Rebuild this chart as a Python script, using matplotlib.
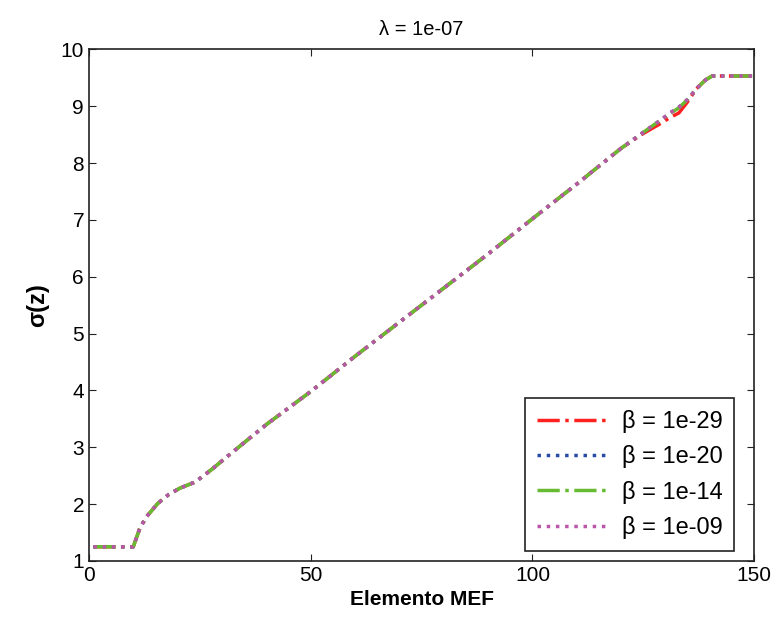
import matplotlib
matplotlib.use("Agg")
import matplotlib.pyplot as plt

plt.rcParams['font.family'] = ['Liberation Sans', 'DejaVu Sans']

# Elemento MEF (x) and sigma(z) values
elem = [1, 10, 11.5, 13, 15.5, 18, 20.5, 24, 28, 32, 40, 50, 60, 70, 80, 90,
        100, 110, 120, 125, 129, 131, 133, 135, 137, 139, 140.5, 150]
sig_b29 = [1.25, 1.25, 1.58, 1.78, 2.01, 2.17, 2.28, 2.39, 2.63, 2.89, 3.40, 3.98,
           4.60, 5.20, 5.80, 6.40, 7.02, 7.63, 8.26, 8.52, 8.70, 8.80, 8.88, 9.08,
           9.31, 9.46, 9.53, 9.53]
sig_b20 = [1.25, 1.25, 1.58, 1.78, 2.01, 2.17, 2.28, 2.39, 2.63, 2.89, 3.40, 3.98,
           4.60, 5.20, 5.80, 6.40, 7.02, 7.63, 8.26, 8.54, 8.76, 8.88, 8.98, 9.12,
           9.31, 9.46, 9.53, 9.53]
sig_b14 = [1.25, 1.25, 1.58, 1.78, 2.01, 2.17, 2.28, 2.39, 2.63, 2.89, 3.40, 3.98,
           4.60, 5.20, 5.80, 6.40, 7.02, 7.63, 8.26, 8.54, 8.76, 8.87, 8.97, 9.12,
           9.31, 9.46, 9.53, 9.53]
sig_b09 = [1.25, 1.25, 1.58, 1.78, 2.01, 2.17, 2.28, 2.39, 2.63, 2.89, 3.40, 3.98,
           4.60, 5.20, 5.80, 6.40, 7.02, 7.63, 8.26, 8.54, 8.76, 8.88, 8.98, 9.12,
           9.31, 9.46, 9.53, 9.53]
labels = ['β = 1e-29', 'β = 1e-20', 'β = 1e-14', 'β = 1e-09']

fig = plt.figure(figsize=(7.8, 6.24), dpi=100)
ax = fig.add_axes([0.114, 0.101, 0.853, 0.820])

ax.plot(elem, sig_b29, color='#ff2020', ls='-.', lw=2.5, label=labels[0])
ax.plot(elem, sig_b20, color='#2a4aa8', ls=':', lw=2.5, label=labels[1])
ax.plot(elem, sig_b14, color='#66bb33', ls='-.', lw=2.5, label=labels[2])
ax.plot(elem, sig_b09, color='#bb55aa', ls=':', lw=2.5, label=labels[3])

ax.set_xlim(0, 150)
ax.set_ylim(1, 10)
ax.set_xticks([0, 50, 100, 150])
ax.set_yticks(range(1, 11))
ax.tick_params(direction='in', top=True, right=True, labelsize=15, length=5, color='#222222')
for s in ax.spines.values():
    s.set_linewidth(1.2)
    s.set_color('#222222')

ax.set_title('λ = 1e-07', fontsize=14.5, pad=10)
ax.set_xlabel('Elemento MEF', fontsize=15, fontweight='bold', labelpad=4)
ax.set_ylabel('σ(z)', fontsize=17, fontweight='bold', labelpad=8)

leg = ax.legend(loc='lower right', bbox_to_anchor=(0.97, 0.02), fontsize=17,
                fancybox=False, framealpha=1, edgecolor='#222222',
                handlelength=3.0, handletextpad=0.6, labelspacing=0.52,
                borderpad=0.5, borderaxespad=0)
leg.get_frame().set_linewidth(1.2)

fig.savefig('out.png', dpi=100)
